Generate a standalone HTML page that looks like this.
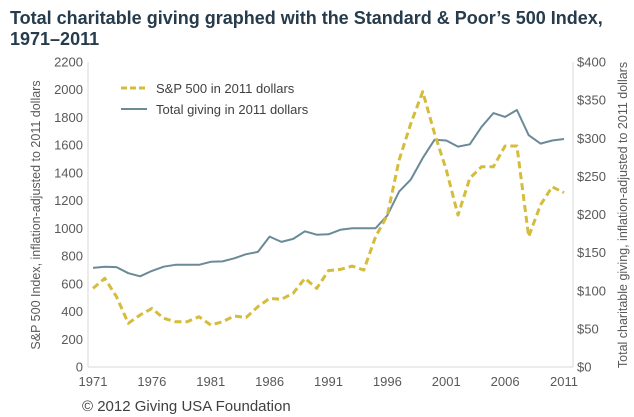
<!DOCTYPE html>
<html><head><meta charset="utf-8"><style>
body{margin:0;background:#fff;}
svg{display:block;font-family:"Liberation Sans",sans-serif;}
</style></head><body>
<svg id="chart" width="634" height="417" viewBox="0 0 634 417">
<text x="10" y="24" font-size="18" font-weight="bold" fill="#263c4c">Total charitable giving graphed with the Standard &amp; Poor’s 500 Index,</text>
<text x="10" y="45" font-size="18" font-weight="bold" fill="#263c4c">1971–2011</text>
<line x1="88" y1="62" x2="88" y2="367" stroke="#d9d9d9"/>
<line x1="573" y1="62" x2="573" y2="367" stroke="#d9d9d9"/>
<line x1="88" y1="367" x2="573" y2="367" stroke="#d9d9d9"/>
<g id="ticks"></g>
<g id="series"></g>
<text transform="translate(40,215) rotate(-90)" text-anchor="middle" font-size="12.5" fill="#595959">S&amp;P 500 Index, inflation-adjusted to 2011 dollars</text>
<text transform="translate(627,215) rotate(-90)" text-anchor="middle" font-size="12.5" fill="#595959">Total charitable giving, inflation-adjusted to 2011 dollars</text>
<g>
<line x1="121" y1="88" x2="147" y2="88" stroke="#d4bc3c" stroke-width="3" stroke-dasharray="6,3"/>
<text x="156" y="93" font-size="13" fill="#404040">S&amp;P 500 in 2011 dollars</text>
<line x1="121" y1="109" x2="147" y2="109" stroke="#6a8a98" stroke-width="2"/>
<text x="156" y="114" font-size="13" fill="#404040">Total giving in 2011 dollars</text>
</g>
<text x="82" y="411" font-size="15" fill="#404040">© 2012 Giving USA Foundation</text>
</svg>
<script>
const years=[1971,1972,1973,1974,1975,1976,1977,1978,1979,1980,1981,1982,1983,1984,1985,1986,1987,1988,1989,1990,1991,1992,1993,1994,1995,1996,1997,1998,1999,2000,2001,2002,2003,2004,2005,2006,2007,2008,2009,2010,2011];
const sp500=[567,640,507,315,375,423,351,327,327,363,303,327,368,357,435,495,488,532,640,567,695,704,728,699,940,1096,1493,1758,1986,1686,1421,1096,1361,1445,1445,1594,1594,940,1169,1300,1257];
const giving=[130,131.5,131,123,119,126,131.5,134,134,134,138,138.5,142.5,148,151,171,164,168,178,173.5,174,180,182,182,182,199,230,246,274,298,297,289,292,315,333,328,337,304,293,297,299];
const leftTicks=[0,200,400,600,800,1000,1200,1400,1600,1800,2000,2200];
const rightTicks=[0,50,100,150,200,250,300,350,400];
const xTicks=[1971,1976,1981,1986,1991,1996,2001,2006,2011];
const NS="http://www.w3.org/2000/svg";
const X=y=>93+(y-1971)*(564-93)/40;
const YL=v=>367-v*305/2200;
const YR=v=>367-v*305/400;
const tg=document.getElementById('ticks');
function txt(x,y,s,anchor,name){const t=document.createElementNS(NS,'text');t.setAttribute('x',x);t.setAttribute('y',y);t.setAttribute('font-size','13');t.setAttribute('fill','#595959');t.setAttribute('text-anchor',anchor);t.textContent=s;


tg.appendChild(t);}
leftTicks.forEach(v=>txt(83,YL(v)+4.5,String(v),'end','left-tick-label'));
rightTicks.forEach(v=>txt(577,YR(v)+4.5,'$'+v,'start','right-tick-label'));
xTicks.forEach(v=>txt(X(v),386,String(v),'middle','x-tick-label'));
const sg=document.getElementById('series');
function line(vals,yf,color,w,dash,name){const p=document.createElementNS(NS,'polyline');
p.setAttribute('points',vals.map((v,i)=>X(years[i]).toFixed(1)+','+yf(v).toFixed(1)).join(' '));
p.setAttribute('fill','none');p.setAttribute('stroke',color);p.setAttribute('stroke-width',w);p.setAttribute('stroke-linejoin','round');
if(dash)p.setAttribute('stroke-dasharray',dash);


sg.appendChild(p);}
line(giving,YR,'#6a8a98',2,null,'giving-line');
line(sp500,YL,'#d4bc3c',3,'7,4','sp500-line');
</script>
</body></html>
